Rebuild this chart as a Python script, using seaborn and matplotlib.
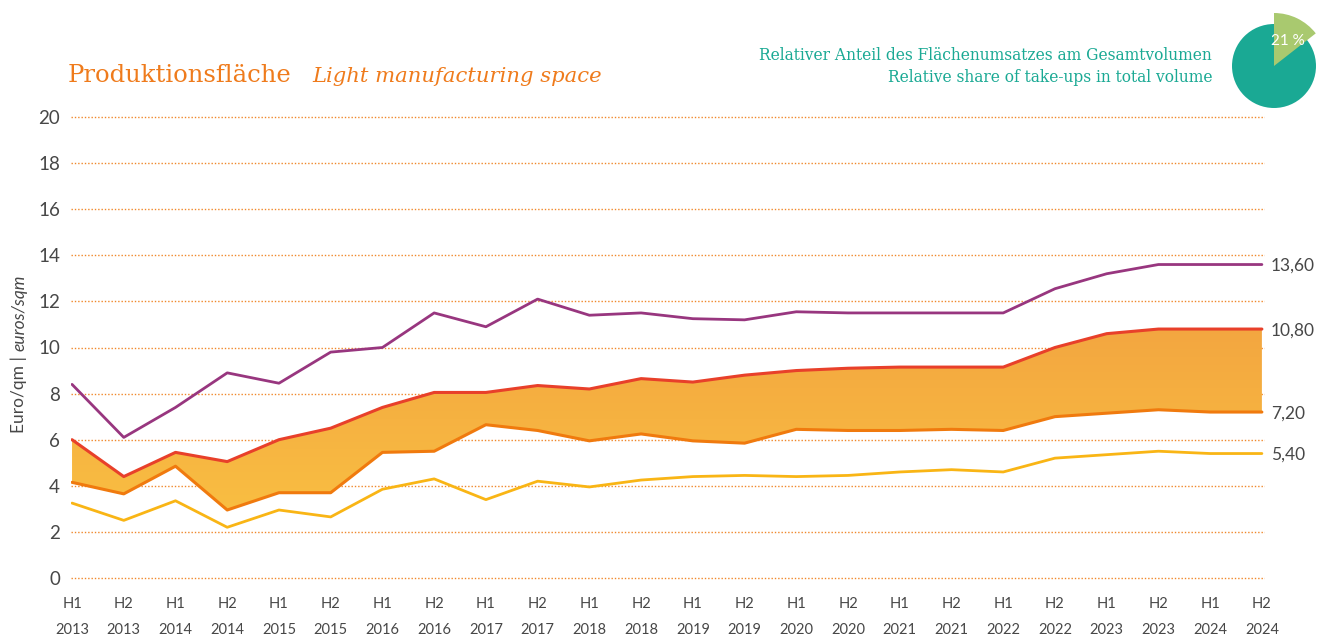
import numpy as np
import pandas as pd
import seaborn as sns
import matplotlib.pyplot as plt
from matplotlib.patches import Wedge, Circle
from matplotlib.colors import LinearSegmentedColormap

# data (euro / sqm)
halves = ["H1", "H2"] * 12
years = [str(y) for y in range(2013, 2025) for _ in range(2)]
top_rent = [8.4, 6.1, 7.4, 8.9, 8.45, 9.8, 10.0, 11.5, 10.9, 12.1, 11.4, 11.5,
            11.25, 11.2, 11.55, 11.5, 11.5, 11.5, 11.5, 12.55, 13.2, 13.6, 13.6, 13.6]
band_high = [6.0, 4.4, 5.45, 5.05, 6.0, 6.5, 7.4, 8.05, 8.05, 8.35, 8.2, 8.65,
             8.5, 8.8, 9.0, 9.1, 9.15, 9.15, 9.15, 10.0, 10.6, 10.8, 10.8, 10.8]
band_low = [4.15, 3.65, 4.85, 2.95, 3.7, 3.7, 5.45, 5.5, 6.65, 6.4, 5.95, 6.25,
            5.95, 5.85, 6.45, 6.4, 6.4, 6.45, 6.4, 7.0, 7.15, 7.3, 7.2, 7.2]
low_rent = [3.25, 2.5, 3.35, 2.2, 2.95, 2.65, 3.85, 4.3, 3.4, 4.2, 3.95, 4.25,
            4.4, 4.45, 4.4, 4.45, 4.6, 4.7, 4.6, 5.2, 5.35, 5.5, 5.4, 5.4]
share_pct = 21
yticks = list(range(0, 21, 2))

df = pd.DataFrame({"t": np.arange(len(halves)), "top": top_rent, "high": band_high,
                   "low": band_low, "bottom": low_rent})

sns.set_theme(style="white")
plt.rcParams["font.family"] = ["Lato", "DejaVu Sans"]

TXT = "#474747"
GRID = "#f0882a"
TEAL = "#1aa994"

W, H = 1325, 635
fig = plt.figure(figsize=(W / 100, H / 100), dpi=100)

# axes in pixel terms: x 71..1265, y(0)=578, 23.05 px per unit
ppu = 23.05
ylo, yhi = -0.3, 20.3
bot_px = 578 + (0 - ylo) * ppu
top_px = 578 - yhi * ppu
ax = fig.add_axes([71 / W, (H - bot_px) / H, 1194 / W, (bot_px - top_px) / H])
ax.set_xlim(-0.02, 23.06)
ax.set_ylim(ylo, yhi)

for v in yticks:
    ax.axhline(v, color=GRID, lw=1.0, ls=(0, (1, 1.4)), zorder=0)

# band fill with soft vertical gradient
poly = ax.fill_between(df["t"], df["low"], df["high"], color="none", lw=0, zorder=1)
grad = np.linspace(0, 1, 256).reshape(-1, 1)
cmap = LinearSegmentedColormap.from_list("band", ["#f9be42", "#f3a640"])
img = ax.imshow(grad, extent=[0, 23, 2.9, 10.9], origin="lower", cmap=cmap,
                aspect="auto", zorder=1)
img.set_clip_path(poly.get_paths()[0], transform=ax.transData)

sns.lineplot(data=df, x="t", y="top", color="#98367f", lw=2.0, ax=ax, zorder=3)
sns.lineplot(data=df, x="t", y="high", color="#e8402a", lw=2.2, ax=ax, zorder=3)
sns.lineplot(data=df, x="t", y="low", color="#f07a0e", lw=2.2, ax=ax, zorder=3)
sns.lineplot(data=df, x="t", y="bottom", color="#f9b515", lw=2.0, ax=ax, zorder=3)

for col in ["top", "high", "low", "bottom"]:
    last = df[col].iloc[-1]
    ax.text(23.17, last - 0.05, f"{last:.2f}".replace(".", ","), color=TXT, fontsize=12.5,
            va="center", ha="left", clip_on=False)

sns.despine(ax=ax, left=True, bottom=True)
ax.set_xlabel("")
ax.set_ylabel("")
ax.set_yticks(yticks)
ax.set_yticklabels([str(v) for v in yticks], fontsize=13.5, color=TXT)
ax.set_xticks(df["t"])
ax.set_xticklabels([f"{h}\n{y}" for h, y in zip(halves, years)], fontsize=10.5,
                   color=TXT, linespacing=2.1)
ax.tick_params(axis="y", length=0, pad=8)
ax.tick_params(axis="x", length=0, pad=8.5)
ax.grid(False)

# y axis title, mixed upright / italic
renderer = fig.canvas.get_renderer()
t1 = fig.text(19 / W, (H - 433) / H, "Euro/qm |", rotation=90, ha="center",
              va="bottom", fontsize=12.5, color=TXT)
bb = t1.get_window_extent(renderer)
fig.text(19 / W, (bb.y1 + 5) / H, "euros/sqm", rotation=90, ha="center",
         va="bottom", fontsize=12.5, color=TXT, style="italic")

# titles
fig.text(68 / W, (H - 75) / H, "Produktionsfläche", family="DejaVu Serif",
         fontsize=17.5, color="#ef7b1c", va="center")
fig.text(312 / W, (H - 76) / H, "Light manufacturing space", family="DejaVu Serif",
         style="italic", fontsize=15.2, color="#ef7b1c", va="center")
fig.text(1212 / W, (H - 55) / H, "Relativer Anteil des Flächenumsatzes am Gesamtvolumen",
         family="DejaVu Serif", fontsize=11.2, color=TEAL, ha="right", va="center")
fig.text(1212 / W, (H - 78) / H, "Relative share of take-ups in total volume",
         family="DejaVu Serif", fontsize=11.2, color=TEAL, ha="right", va="center")

# share pie
pax = fig.add_axes([1220 / W, (H - 120) / H, 105 / W, 120 / H])
pax.set_xlim(1220, 1325)
pax.set_ylim(H - 120, H)
pax.axis("off")
cx, cy = 1274, H - 66
pax.add_patch(Circle((cx, cy), 42, color=TEAL, lw=0))
pax.add_patch(Wedge((cx, cy), 53, 38, 90, color="#a9c96f", lw=0))
pax.text(1288, H - 41, f"{share_pct} %", color="white", fontsize=11,
         ha="center", va="center")

fig.savefig("out.png", dpi=100)
